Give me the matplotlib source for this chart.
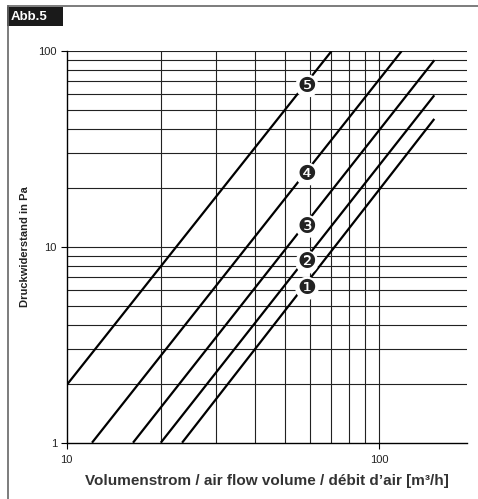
import matplotlib
matplotlib.use("Agg")
import matplotlib.pyplot as plt
from matplotlib.ticker import FixedLocator, NullFormatter, FixedFormatter
from matplotlib.lines import Line2D
from matplotlib.patches import Rectangle

plt.rcParams['font.family'] = ['Liberation Sans', 'DejaVu Sans']

# Data (flow Q in m3/h, pressure drop in Pa)
series_names = ["1", "2", "3", "4", "5"]
q1 = [23.4, 150]; p1 = [1, 45]
q2 = [20.0, 150]; p2 = [1, 59.4]
q3 = [16.3, 150]; p3 = [1, 89.7]
q4 = [12.05, 118]; p4 = [1, 100]
q5 = [10, 70.4]; p5 = [1.97, 100]
label_q = [58.7, 58.7, 58.7, 58.7, 58.7]
label_p = [6.14, 8.34, 12.7, 23.5, 66.3]
label_txt = ["\u2776", "\u2777", "\u2778", "\u2779", "\u277A"]

x_major = [10, 100]
x_minor = [20, 30, 40, 50, 60, 70, 80, 90]
y_major = [1, 10, 100]
y_minor = [2, 3, 4, 5, 6, 7, 8, 9, 20, 30, 40, 50, 60, 70, 80, 90]

fig = plt.figure(figsize=(4.78, 4.99), dpi=100)
ax = fig.add_axes([0.1395, 0.1128, 0.8368, 0.785])
ax.set_xscale('log')
ax.set_yscale('log')
ax.set_xlim(10, 190.4)
ax.set_ylim(1, 100)

# grid
for x in x_minor + [100]:
    ax.axvline(x, color='#222222', lw=0.8, zorder=1)
for y in y_minor + [10, 100]:
    ax.axhline(y, color='#222222', lw=0.8, zorder=1)

for q, p in [(q1, p1), (q2, p2), (q3, p3), (q4, p4), (q5, p5)]:
    ax.plot(q, p, color='black', lw=1.6, zorder=3, solid_capstyle='butt')

for xq, yp, t in zip(label_q, label_p, label_txt):
    ax.text(xq, yp, t, fontsize=15, ha='center', va='center', color='#222222',
            family=['DejaVu Sans'], zorder=5,
            bbox=dict(boxstyle='circle,pad=0.08', fc='white', ec='none'))

ax.xaxis.set_major_locator(FixedLocator(x_major))
ax.xaxis.set_major_formatter(FixedFormatter([str(v) for v in x_major]))
ax.xaxis.set_minor_locator(FixedLocator(x_minor))
ax.xaxis.set_minor_formatter(NullFormatter())
ax.yaxis.set_major_locator(FixedLocator(y_major))
ax.yaxis.set_major_formatter(FixedFormatter([str(v) for v in y_major]))
ax.yaxis.set_minor_locator(FixedLocator(y_minor))
ax.yaxis.set_minor_formatter(NullFormatter())
ax.tick_params(which='minor', length=0)
ax.tick_params(which='major', length=4, width=0.8, labelsize=8, pad=3,
               labelcolor='#222222')
ax.tick_params(axis='x', which='major', pad=5)

for s in ['top', 'right']:
    ax.spines[s].set_visible(False)
for s in ['left', 'bottom']:
    ax.spines[s].set_linewidth(1.0)

ax.set_xlabel("Volumenstrom / air flow volume / débit d\u2019air [m\u00b3/h]",
              fontsize=11, fontweight='bold', color='#333333', labelpad=6)
ax.set_ylabel("Druckwiderstand in Pa", fontsize=8, fontweight='bold',
              color='#222222', labelpad=6)

# frame lines and "Abb.5" tag
W, H = 478, 499
fig.add_artist(Line2D([8 / W, 8 / W], [0, 1 - 6 / H], color='#666666', lw=1.2,
                      transform=fig.transFigure))
fig.add_artist(Line2D([8 / W, 1], [1 - 6 / H, 1 - 6 / H], color='#666666', lw=1.2,
                      transform=fig.transFigure))
fig.add_artist(Rectangle((7 / W, 1 - 25.7 / H), 56 / W, 18.7 / H, fc='#1a1a1a',
                         ec='none', transform=fig.transFigure))
fig.text(11 / W, 1 - 16.5 / H, "Abb.5", color='white', fontsize=9.5,
         fontweight='bold', va='center', ha='left')

fig.savefig("out.png", dpi=100)
